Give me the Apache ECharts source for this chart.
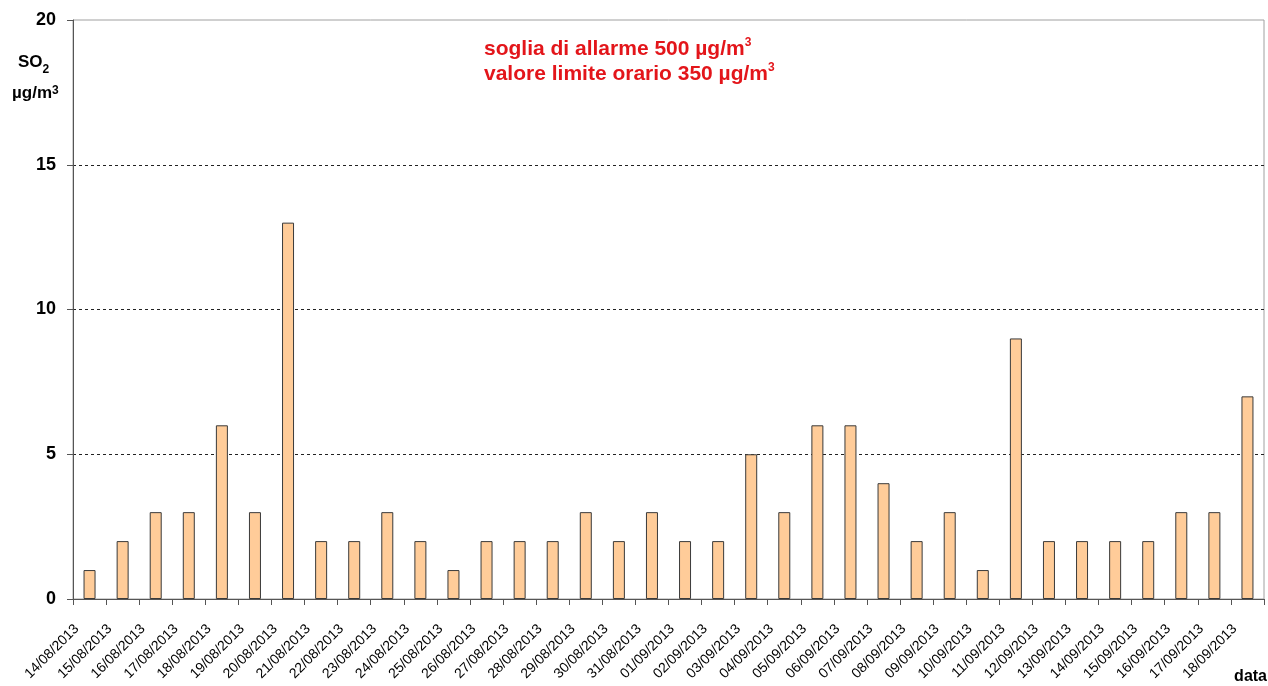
<!DOCTYPE html>
<html>
<head>
<meta charset="utf-8">
<script src="https://cdn.jsdelivr.net/npm/echarts@6/dist/echarts.min.js"></script>
<style>
  html, body { margin: 0; padding: 0; background: #fff; }
  #chart { width: 1268px; height: 686px; }
</style>
</head>
<body>
<div id="chart"></div>
<script>
var days = [
    '14/08/2013', '15/08/2013', '16/08/2013', '17/08/2013', '18/08/2013', '19/08/2013',
    '20/08/2013', '21/08/2013', '22/08/2013', '23/08/2013', '24/08/2013', '25/08/2013',
    '26/08/2013', '27/08/2013', '28/08/2013', '29/08/2013', '30/08/2013', '31/08/2013',
    '01/09/2013', '02/09/2013', '03/09/2013', '04/09/2013', '05/09/2013', '06/09/2013',
    '07/09/2013', '08/09/2013', '09/09/2013', '10/09/2013', '11/09/2013', '12/09/2013',
    '13/09/2013', '14/09/2013', '15/09/2013', '16/09/2013', '17/09/2013', '18/09/2013'
];
var so2 = [
    1, 2, 3, 3, 6, 3,
    13, 2, 2, 3, 2, 1,
    2, 2, 2, 3, 2, 3,
    2, 2, 5, 3, 6, 6,
    4, 2, 3, 1, 9, 2,
    2, 2, 2, 3, 3, 7
];
var yTicks = [0, 5, 10, 15, 20];

var dom = document.getElementById("chart");
var myChart = echarts.init(dom);
var font = 'Arial, "Liberation Sans", sans-serif';
var red = '#e3151a';

var option = {
    animation: false,
    backgroundColor: '#fff',
    grid: {
        left: 73,
        right: 4,
        top: 20,
        bottom: 87,
        show: true,
        borderColor: '#a0a0a0',
        borderWidth: 1
    },
    xAxis: {
        type: 'category',
        data: days,
        boundaryGap: true,
        axisLine: { lineStyle: { color: '#555', width: 1 } },
        axisTick: { show: true, length: 6, lineStyle: { color: '#555' } },
        axisLabel: {
            rotate: 45,
            interval: 0,
            margin: 15,
            padding: [0, 18, 0, 0],
            fontFamily: font,
            fontSize: 14,
            color: '#000'
        },
        splitLine: { show: false }
    },
    yAxis: {
        type: 'value',
        min: yTicks[0],
        max: yTicks[yTicks.length - 1],
        interval: 5,
        axisLine: { show: true, lineStyle: { color: '#555', width: 1 } },
        axisTick: { show: true, length: 6, lineStyle: { color: '#555' } },
        axisLabel: {
            margin: 17,
            fontFamily: font,
            fontSize: 18,
            fontWeight: 'bold',
            color: '#000'
        },
        splitLine: {
            show: true,
            showMinLine: false,
            showMaxLine: false,
            lineStyle: { color: '#222', type: [3, 3], width: 1 }
        }
    },
    series: [{
        name: 'SO2',
        type: 'bar',
        data: so2,
        barWidth: 12,
        itemStyle: {
            color: '#ffcc99',
            borderColor: '#3a3a3a',
            borderWidth: 1
        }
    }],
    graphic: [
        {
            type: 'text',
            left: 484,
            top: 37,
            style: {
                text: '{m|soglia di allarme 500 µg/m}{s|3}\n{m|valore limite orario 350 µg/m}{s|3}',
                rich: {
                    m: { fontFamily: font, fontSize: 21, fontWeight: 'bold', fill: red, lineHeight: 25, verticalAlign: 'middle' },
                    s: { fontFamily: font, fontSize: 12, fontWeight: 'bold', fill: red, lineHeight: 12, verticalAlign: 'top' }
                }
            }
        },
        {
            type: 'text',
            left: 18,
            top: 54,
            style: {
                text: '{m|SO}{b|2}',
                rich: {
                    m: { fontFamily: font, fontSize: 17, fontWeight: 'bold', fill: '#000', lineHeight: 22, verticalAlign: 'top' },
                    b: { fontFamily: font, fontSize: 12, fontWeight: 'bold', fill: '#000', lineHeight: 11, verticalAlign: 'bottom' }
                }
            }
        },
        {
            type: 'text',
            left: 12,
            top: 85,
            style: {
                text: '{m|µg/m}{s|3}',
                rich: {
                    m: { fontFamily: font, fontSize: 17, fontWeight: 'bold', fill: '#000', lineHeight: 20, verticalAlign: 'top' },
                    s: { fontFamily: font, fontSize: 12, fontWeight: 'bold', fill: '#000', lineHeight: 12, verticalAlign: 'top' }
                }
            }
        },
        {
            type: 'text',
            right: 1,
            top: 669,
            style: {
                text: 'data',
                fontFamily: font,
                fontSize: 16,
                fontWeight: 'bold',
                fill: '#000'
            }
        }
    ]
};

if (option && typeof option === "object") {
    myChart.setOption(option, true);
}
</script>
</body>
</html>
